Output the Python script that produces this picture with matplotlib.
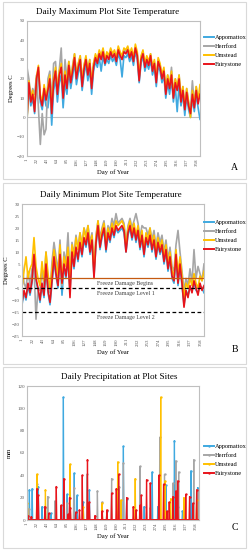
import numpy as np
import matplotlib.pyplot as plt
from matplotlib.patches import Rectangle

plt.rcParams["font.family"] = ["Liberation Serif", "DejaVu Serif"]

# sites, colours
sites = ["Appomattox", "Herrford", "Umstead", "Fairystone"]
colors = ["#3FA9E0", "#A6A6A6", "#FFC000", "#E8141B"]

# temperature read every 4 days (day 1, 5, ..., 365)
temp_days = np.arange(1, 366, 4)

tmax_appomattox = [
    -1, 15, 6, 10, 2, 18, 24, 8, 4, 12,
    6, 5, 17, -4, 14, 20, 8, 18, 22, 5,
    18, 12, 24, 15, 21, 29, 17, 23, 27, 14,
    22, 28, 19, 25, 12, 24, 29, 26, 31, 24,
    32, 27, 30, 28, 32, 29, 31, 27, 33, 30,
    21, 32, 31, 33, 29, 32, 27, 34, 30, 18,
    28, 32, 24, 28, 25, 30, 22, 26, 16, 27,
    24, 18, 22, 10, 18, 12, 20, 8, 16, 3,
    17, 6, 12, 1, 11, 4, 0, 10, 3, 12,
    5, -1]
tmax_herrford = [
    26, 20, 10, 15, 12, 22, 5, -14, 2, -9,
    -6, 20, 24, 8, 28, 29, 14, 25, 36, 12,
    30, 20, 29, 20, 27, 33, 22, 28, 32, 20,
    27, 31, 24, 30, 17, 28, 32, 30, 34, 31,
    35, 30, 33, 31, 35, 32, 34, 30, 35, 33,
    31, 35, 34, 36, 32, 35, 30, 36, 33, 22,
    31, 34, 27, 31, 28, 33, 25, 29, 20, 30,
    27, 21, 25, 14, 22, 16, 26, 12, 20, 14,
    22, 10, 16, 6, 15, 8, 4, 19, 7, 16,
    9, 13]
tmax_umstead = [
    -2, 19, 10, 14, 5, 21, 27, 12, 8, 17,
    11, 16, 22, 4, 20, 26, 14, 24, 28, 12,
    24, 17, 29, 20, 26, 33, 22, 28, 32, 18,
    27, 32, 24, 30, 17, 28, 33, 30, 35, 32,
    36, 30, 34, 32, 36, 33, 35, 31, 37, 34,
    32, 36, 35, 37, 33, 36, 31, 38, 34, 21,
    32, 35, 28, 32, 29, 33, 26, 30, 20, 31,
    28, 22, 26, 14, 22, 17, 24, 12, 20, 16,
    22, 10, 16, 5, 15, 8, 0, 14, 7, 16,
    9, 17]
tmax_fairystone = [
    0, 18, 8, 12, 3, 20, 26, 10, 6, 15,
    9, 14, 20, 2, 18, 24, 12, 22, 26, 10,
    22, 15, 27, 18, 24, 31, 20, 26, 30, 16,
    25, 30, 22, 28, 15, 26, 31, 28, 33, 30,
    34, 28, 32, 30, 34, 31, 33, 29, 35, 32,
    30, 34, 33, 35, 31, 34, 29, 36, 32, 19,
    30, 33, 26, 30, 27, 32, 24, 28, 18, 29,
    26, 20, 24, 12, 20, 15, 22, 10, 18, 14,
    20, 8, 14, 4, 13, 6, 2, 12, 5, 14,
    7, 12]

tmin_appomattox = [
    -12, -7, -10, -4, -8, -3, 7, -2, -6, -11,
    -4, -9, 3, -7, -12, -3, 6, 0, -5, 8,
    -8, 4, -1, 7, -6, 9, 3, 11, 6, 13,
    8, 15, 12, 17, 9, 14, 0, 13, 20, 11,
    16, 19, 10, 17, 14, 19, 16, 20, 18, 19,
    20, 18, 10, 17, 20, 15, 19, 14, 18, 11,
    16, 8, 15, 12, 16, 10, 14, 7, 13, 9,
    12, 5, 10, 2, 7, -1, -3, 8, -4, 4,
    -4, -12, -6, -8, -5, -6, -3, -6, -7, -4,
    -5, -7]
tmin_herrford = [
    6, -3, -5, 2, -4, 3, 4, -18, -5, -6,
    2, -4, 10, -2, -7, 6, 14, 8, 2, 15,
    -4, 10, 5, 18, -1, 14, 9, 17, 11, 18,
    13, 20, 17, 21, 14, 18, 3, 17, 23, 16,
    20, 23, 15, 21, 19, 24, 21, 26, 22, 23,
    24, 22, 14, 21, 24, 20, 23, 26, 22, 16,
    21, 20, 20, 17, 20, 15, 19, 12, 18, 14,
    17, 10, 15, 7, 12, 4, 2, 13, 19, 10,
    2, -6, -1, -4, 3, -3, 11, -1, 4, 1,
    -2, 5]
tmin_umstead = [
    -5, 2, 8, -1, 3, 5, 16, 4, -1, -4,
    6, -2, 10, 1, -5, 3, 11, 5, 0, 13,
    -3, 8, 4, 12, 0, 13, 8, 16, 11, 18,
    12, 20, 15, 21, 12, 17, 2, 16, 23, 14,
    19, 22, 13, 20, 17, 22, 19, 23, 21, 22,
    23, 21, 12, 20, 23, 18, 22, 17, 21, 14,
    19, 11, 18, 15, 20, 13, 17, 10, 16, 12,
    15, 8, 13, 5, 10, 2, 0, 11, 1, 8,
    0, -9, -3, -5, -1, -4, 1, -3, -5, 0,
    -2, 2]
tmin_fairystone = [
    -11, -6, -9, -3, -7, -2, 9, -1, -5, -10,
    -3, -8, 5, -6, -11, -2, 8, 1, -4, 9,
    -3, 5, 0, 8, -9, 10, 4, 12, 7, 14,
    9, 16, 13, 18, 10, 15, -1, 14, 21, 12,
    17, 20, 11, 18, 15, 20, 17, 21, 19, 20,
    21, 19, 10, 18, 21, 16, 20, 15, 19, 12,
    17, 9, 16, 13, 17, 11, 15, 8, 14, 10,
    13, 6, 11, 3, 8, 0, -2, 9, -3, 5,
    -3, -13, -6, -9, -4, -7, -2, -5, -8, -3,
    -6, -4]

# rain events (day of year, mm); all other days are dry
rain_days_appomattox = [6, 12, 25, 33, 40, 52, 78, 86, 101, 107, 120, 133, 170,
                        205, 212, 249, 266, 278, 295, 313, 320, 330, 348, 362]
rain_mm_appomattox = [27, 28, 30, 12, 11, 6, 110, 23, 42, 22, 16, 27, 8,
                      66, 19, 12, 43, 12, 31, 71, 12, 8, 44, 29]
rain_days_herrford = [5, 22, 45, 60, 85, 100, 128, 150, 160, 180, 196, 205,
                      240, 262, 282, 292, 310, 316, 322, 354, 363]
rain_mm_herrford = [10, 32, 21, 17, 15, 29, 41, 26, 16, 37, 30, 51,
                    48, 11, 74, 41, 33, 53, 43, 54, 27]
rain_days_umstead = [2, 22, 40, 92, 120, 160, 193, 200, 230, 284, 293, 305, 333, 360]
rain_mm_umstead = [15, 41, 27, 50, 12, 15, 52, 18, 37, 110, 35, 19, 20, 18]
rain_days_fairystone = [3, 10, 22, 25, 39, 47, 63, 73, 79, 88, 91, 93, 104, 112,
                        118, 129, 133, 145, 160, 170, 180, 190, 195, 212, 226,
                        232, 240, 243, 254, 262, 280, 290, 297, 302, 310, 316,
                        320, 337, 345, 352, 360]
rain_mm_fairystone = [4, 3, 28, 22, 12, 6, 30, 13, 37, 5, 20, 11, 7, 9,
                      40, 54, 16, 4, 8, 9, 24, 28, 41, 20, 12,
                      9, 13, 22, 36, 33, 40, 32, 8, 16, 21, 26,
                      35, 23, 21, 15, 27]

xticks = list(range(1, 366, 21))

W, H = 249, 550
fig = plt.figure(figsize=(W / 100, H / 100), dpi=100)


def fx(px):
    return px / W


def fy(py):
    return 1 - py / H


# panel frames
for top, bot in [(2, 179), (183, 364), (367, 548)]:
    fig.add_artist(Rectangle((fx(3), fy(bot)), fx(243), (bot - top) / H,
                             transform=fig.transFigure, facecolor="white",
                             edgecolor="#D9D9D9", lw=0.8, zorder=-5))


def make_ax(left, right, top, bottom):
    ax = fig.add_axes([fx(left), fy(bottom), fx(right - left), (bottom - top) / H])
    for s in ax.spines.values():
        s.set_color("#BFBFBF")
        s.set_linewidth(0.8)
    ax.tick_params(length=0, labelsize=3.6, colors="#595959", pad=1.5)
    ax.set_xlim(1, 365)
    ax.set_xticks(xticks)
    ax.set_xticklabels([str(t) for t in xticks], rotation=90)
    return ax


def add_legend(ax, x, y):
    leg = ax.legend(loc="upper left", bbox_to_anchor=(fx(x), fy(y)),
                    bbox_transform=fig.transFigure, frameon=False, fontsize=4.6,
                    handlelength=1.5, handletextpad=0.2, labelspacing=0.55,
                    borderpad=0, borderaxespad=0)
    for ln in leg.get_lines():
        ln.set_linewidth(1.4)


# ---- A: daily max
axA = make_ax(27, 200, 21, 156)
for name, c, vals in zip(sites, colors,
                         [tmax_appomattox, tmax_herrford, tmax_umstead, tmax_fairystone]):
    axA.plot(temp_days, vals, color=c, lw=1.2, label=name)
axA.axhline(0, color="#BFBFBF", lw=0.8, zorder=0)
axA.set_ylim(-20, 50)
axA.set_yticks(range(-20, 51, 10))
axA.set_ylabel("Degrees C", fontsize=4.8, labelpad=2)
add_legend(axA, 204, 35)
fig.text(fx(108), fy(12), "Daily Maximum Plot Site Temperature", fontsize=6.6,
         ha="center", va="center")
fig.text(fx(113), fy(172), "Day of Year", fontsize=4.8, ha="center", va="center")
fig.text(fx(234), fy(168), "A", fontsize=7, ha="center", va="center")

# ---- B: daily min
axB = make_ax(22, 204, 204, 336)
for name, c, vals in zip(sites, colors,
                         [tmin_appomattox, tmin_herrford, tmin_umstead, tmin_fairystone]):
    axB.plot(temp_days, vals, color=c, lw=1.2, label=name)
axB.axhline(-1, color="#C55A11", lw=0.9)
axB.axhline(-5, color="black", lw=0.9, ls=(0, (3, 2)))
axB.axhline(-15, color="black", lw=0.9, ls=(0, (3, 2)))
for yv, txt in [(-2.2, "Freeze Damage Begins"), (-6.3, "Freeze Damage Level 1"),
                (-16.3, "Freeze Damage Level 2")]:
    axB.text(208, yv, txt, fontsize=4.3, color="#404040", ha="center", va="top")
axB.set_ylim(-25, 30)
axB.set_yticks(range(-25, 31, 5))
axB.set_ylabel("Degrees C", fontsize=4.8, labelpad=2)
add_legend(axB, 204, 220)
fig.text(fx(111), fy(195), "Daily Minimum Plot Site Temperature", fontsize=6.6,
         ha="center", va="center")
fig.text(fx(113), fy(352), "Day of Year", fontsize=4.8, ha="center", va="center")
fig.text(fx(235), fy(350), "B", fontsize=7, ha="center", va="center")

# ---- C: precipitation
axC = make_ax(27, 199, 386, 520)
all_days = np.arange(1, 366)
for name, c, dd, mm in zip(sites, colors,
                           [rain_days_appomattox, rain_days_herrford,
                            rain_days_umstead, rain_days_fairystone],
                           [rain_mm_appomattox, rain_mm_herrford,
                            rain_mm_umstead, rain_mm_fairystone]):
    daily = np.zeros(365)
    daily[np.array(dd) - 1] = mm
    axC.plot(all_days, daily, color=c, lw=0.9, marker="o", ms=1.7,
             mew=0, label=name)
axC.set_ylim(0, 120)
axC.set_yticks(range(0, 121, 20))
axC.set_ylabel("mm", fontsize=4.8, labelpad=4)
add_legend(axC, 204, 444)
fig.text(fx(119), fy(377), "Daily Precipitation at Plot Sites", fontsize=6.6,
         ha="center", va="center")
fig.text(fx(113), fy(536), "Day of Year", fontsize=4.8, ha="center", va="center")
fig.text(fx(235), fy(527), "C", fontsize=7, ha="center", va="center")

fig.savefig("out.png", dpi=100)
